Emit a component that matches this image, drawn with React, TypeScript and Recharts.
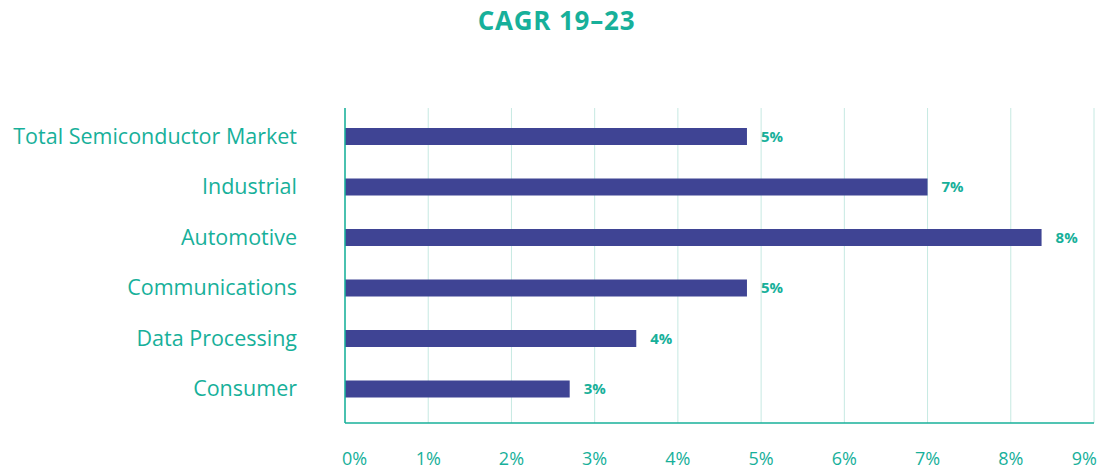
import React from "react";
import { BarChart, Bar, XAxis, YAxis, CartesianGrid, LabelList } from "recharts";

const categories = [
  "Total Semiconductor Market",
  "Industrial",
  "Automotive",
  "Communications",
  "Data Processing",
  "Consumer",
];
const cagrValues = [4.83, 7.0, 8.37, 4.83, 3.5, 2.7];
const xTicks = [0, 1, 2, 3, 4, 5, 6, 7, 8, 9];
const title = "CAGR 19–23";

const data = categories.map((name, i) => ({ name, value: cagrValues[i] }));

const TEAL = "#17b09a";
const BAR = "#3f4494";
const GRID = "#c6e9e2";
const FONT = "'Open Sans', sans-serif";

const XTick = (props: any) => {
  const { x, y, payload, index } = props;
  const last = xTicks.length - 1;
  let anchor: "start" | "middle" | "end" = "middle";
  let dx = 0;
  if (index === 0) {
    anchor = "start";
    dx = -3;
  } else if (index === last) {
    anchor = "end";
    dx = 3;
  }
  return (
    <text
      x={x + dx}
      y={y + 42}
      textAnchor={anchor}
      fill={TEAL}
      fontSize={18}
      fontFamily={FONT}
    >
      {`${payload.value}%`}
    </text>
  );
};

export default function App() {
  return (
    <div style={{ position: "absolute", left: 0, top: 0, width: 1102, height: 469, background: "#fff" }}>
      <div
        style={{
          position: "absolute",
          left: 0,
          top: 4,
          width: 1113,
          textAlign: "center",
          fontFamily: FONT,
          fontWeight: 700,
          fontSize: 26,
          letterSpacing: 0.8,
          color: TEAL,
          lineHeight: "32px",
        }}
      >
        {title}
      </div>
      <BarChart
        width={1102}
        height={469}
        data={data}
        layout="vertical"
        margin={{ top: 108, right: 8, bottom: 0, left: 0 }}
        barSize={17}
      >
        <CartesianGrid horizontal={false} vertical={true} stroke={GRID} strokeWidth={1} />
        <XAxis
          type="number"
          domain={[0, 9]}
          ticks={xTicks}
          interval={0}
          height={46}
          axisLine={{ stroke: TEAL, strokeWidth: 1.5 }}
          tickLine={false}
          tickSize={0}
          tickMargin={0}
          tick={<XTick />}
        />
        <YAxis
          type="category"
          dataKey="name"
          width={345}
          padding={{ top: 3, bottom: 9 }}
          axisLine={{ stroke: TEAL, strokeWidth: 1.5 }}
          tickLine={false}
          tickSize={0}
          tickMargin={48}
          interval={0}
          tick={{ fill: TEAL, fontSize: 21.5, fontFamily: FONT }}
        />
        <Bar dataKey="value" fill={BAR} isAnimationActive={false}>
          <LabelList
            dataKey="value"
            position="right"
            offset={14}
            fill={TEAL}
            fontSize={15}
            fontWeight={700}
            fontFamily={FONT}
            formatter={(v: any) => `${Math.round(Number(v))}%`}
          />
        </Bar>
      </BarChart>
    </div>
  );
}
